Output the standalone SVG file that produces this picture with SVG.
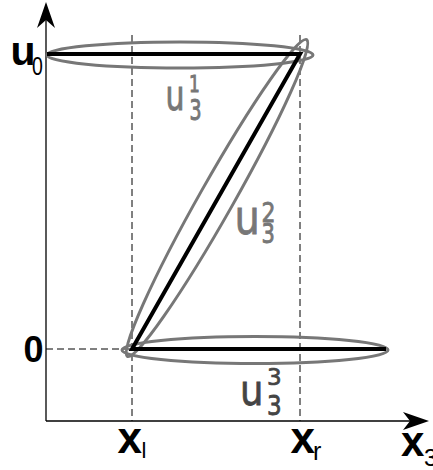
<svg xmlns="http://www.w3.org/2000/svg" width="433" height="470" viewBox="0 0 433 470">
<style>
.axis{stroke:#000;stroke-width:1.3;fill:none}
.dash{stroke:#000;stroke-width:1;stroke-dasharray:7,4;fill:none}
.ell{stroke:#777;stroke-width:3;fill:none}
.path{stroke:#000;stroke-width:4;fill:none;stroke-linecap:butt}
.lab{font-family:"DejaVu Sans",sans-serif;fill:#777;stroke:#777;stroke-width:0.7}
.blab{font-family:"Liberation Sans",Arial,sans-serif;fill:#000}
</style>
<rect width="433" height="470" fill="#fff"/>
<g id="connectors">
<line class="dash" x1="132" y1="35" x2="132" y2="421"/>
<line class="dash" x1="300" y1="35" x2="300" y2="421"/>
<line class="dash" x1="46" y1="349" x2="132" y2="349"/>
<line class="axis" x1="46" y1="421" x2="46" y2="12"/>
<path d="M46,2 L55,28 L46,20 L37,28 Z" fill="#000"/>
<line class="axis" x1="46" y1="421" x2="418" y2="421"/>
<path d="M429,421 L403,412 L410,421 L403,430 Z" fill="#000"/>
</g>
<g id="ellipse-u31"><ellipse class="ell" cx="180" cy="55" rx="133" ry="13"/></g>
<g id="ellipse-u32"><ellipse class="ell" cx="217" cy="198" rx="182" ry="17" transform="rotate(-60.5 217 198)"/></g>
<g id="ellipse-u33"><ellipse class="ell" cx="255" cy="350" rx="133" ry="13.5"/></g>
<g id="solution">
<polyline class="path" points="47,54 300,54 132,349 386,349"/>
</g>
<g id="label-u0" class="blab">
<text x="10.5" y="65" font-size="41" font-weight="bold">u</text>
<text transform="translate(32,75) scale(1,1.3)" font-size="19.5">0</text>
</g>
<g id="label-zero" class="blab"><text x="23.6" y="362" font-size="36" font-weight="bold">0</text></g>
<g id="label-u31" class="lab">
<text transform="translate(165.5,110) scale(1,1.4)" font-size="30">u</text>
<text transform="translate(189,92) scale(1,1.4)" font-size="17">1</text>
<text transform="translate(189.5,120) scale(1,1.5)" font-size="19">3</text>
</g>
<g id="label-u32" class="lab">
<text transform="translate(234.6,234) scale(1,1.19)" font-size="40">u</text>
<text transform="translate(261.5,222) scale(1,1.18)" font-size="22">2</text>
<text transform="translate(261.5,243) scale(1,1.3)" font-size="21">3</text>
</g>
<g id="label-u33" class="lab" style="fill:#444;stroke:#444">
<text transform="translate(240,405) scale(1,1.14)" font-size="37">u</text>
<text transform="translate(267,385)" font-size="23">3</text>
<text transform="translate(267,415) scale(1,1.19)" font-size="23">3</text>
</g>
<g id="label-xl" class="blab">
<text x="117.5" y="453" font-size="44" font-weight="bold">x</text>
<text x="141.5" y="458" font-size="22">l</text>
</g>
<g id="label-xr" class="blab">
<text x="290.5" y="453" font-size="44" font-weight="bold">x</text>
<text x="313" y="460" font-size="25">r</text>
</g>
<g id="label-x3" class="blab">
<text x="401" y="456" font-size="42" font-weight="bold">x</text>
<text x="424" y="466" font-size="24">3</text>
</g>
</svg>
